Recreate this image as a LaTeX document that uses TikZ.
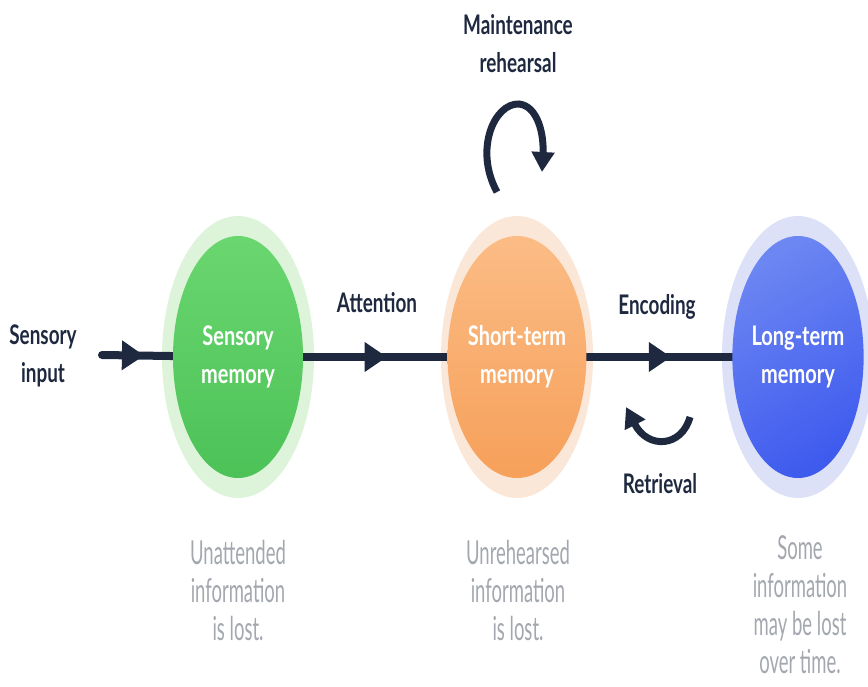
\documentclass[tikz,border=0pt]{standalone}
\usepackage{fontspec}
\setmainfont{Lato}
\newfontfamily\labfont[FakeStretch=0.70]{Lato Bold}
\newfontfamily\labbold[FakeStretch=0.74]{Lato Bold}
\newfontfamily\grayfont[FakeStretch=0.56]{Lato}
\usetikzlibrary{shapes.geometric,decorations.markings,backgrounds,arrows.meta}
\definecolor{navy}{HTML}{1E2940}
\definecolor{greytxt}{HTML}{A3A7AE}
\definecolor{gtop}{HTML}{6AD66F}
\definecolor{gbot}{HTML}{4CC257}
\definecolor{ghalo}{HTML}{DDF4DB}
\definecolor{otop}{HTML}{FBBC85}
\definecolor{obot}{HTML}{F6A05A}
\definecolor{ohalo}{HTML}{FBE7D8}
\definecolor{btop}{HTML}{6C86F2}
\definecolor{bbot}{HTML}{3F5BEE}
\definecolor{bhalo}{HTML}{DDE1F8}
\tikzset{
  darklab/.style={text=navy, align=center, font=\labfont\fontsize{27}{38}\selectfont, inner sep=0},
  graylab/.style={text=greytxt, align=center, font=\grayfont\fontsize{33}{38}\selectfont, inner sep=0},
  halo/.style={ellipse, inner sep=0, minimum width=152, minimum height=282},
  mem/.style={ellipse, inner sep=0, minimum width=130, minimum height=242, text=white, align=center, font=\labbold\fontsize{27}{38}\selectfont},
  flow/.style={draw=navy, line width=8pt, line cap=round},
  mid/.style={postaction={decorate}, decoration={markings, mark=at position #1 with {\fill[navy] (-10,-15) -- (12,0) -- (-10,15) -- cycle;}}},
  curv/.style={draw=navy, line width=7pt, -{Triangle[length=20pt,width=22pt]}}
}
\begin{document}
\begin{tikzpicture}[x=1pt,y=-1pt]
\useasboundingbox (0,0) rectangle (868,687);
% memory stores
\node[mem, top color=gtop, bottom color=gbot] (sens) at (238,357) {Sensory\\memory};
\node[mem, top color=otop, bottom color=obot] (short) at (517,357) {Short-term\\memory};
\node[mem, top color=btop, bottom color=bbot, shading angle=30] (long) at (798,357) {Long-term\\memory};
% labels
\node[darklab] (inlab) at (43,356) {Sensory\\input};
\coordinate (in) at (102,355);
\node[darklab] (att) at (377,303) {Attention};
\node[darklab] (enc) at (657,307) {Encoding};
\node[darklab] (ret) at (660,484) {Retrieval};
\node[darklab] (mr) at (518,44) {Maintenance\\rehearsal};
\begin{pgfonlayer}{background}
% halos
\node[halo, fill=ghalo] (sensH) at (sens) {};
\node[halo, fill=ohalo] (shortH) at (short) {};
\node[halo, fill=bhalo] (longH) at (long) {};
% flow line
\draw[flow, mid=0.22] (in) -- (sens.center);
\draw[flow, mid=0.49] (sens.center) -- (short.center);
\draw[flow, mid=0.505] (short.center) -- (long.center);
\end{pgfonlayer}
% loops
\draw[curv] (497,192) .. controls (474,150) and (494,103) .. (519,104) .. controls (538,106) and (544,135) .. (542,172);
\draw[curv] (690,417) .. controls (682,447) and (648,450) .. (626,407);
% losses
\node[graylab] (l1) at (238,590) {Unattended\\information\\is lost.};
\node[graylab] (l2) at (518,590) {Unrehearsed\\information\\is lost.};
\node[graylab] (l3) at (800,605) {Some\\information\\may be lost\\over time.};
\end{tikzpicture}
\end{document}
